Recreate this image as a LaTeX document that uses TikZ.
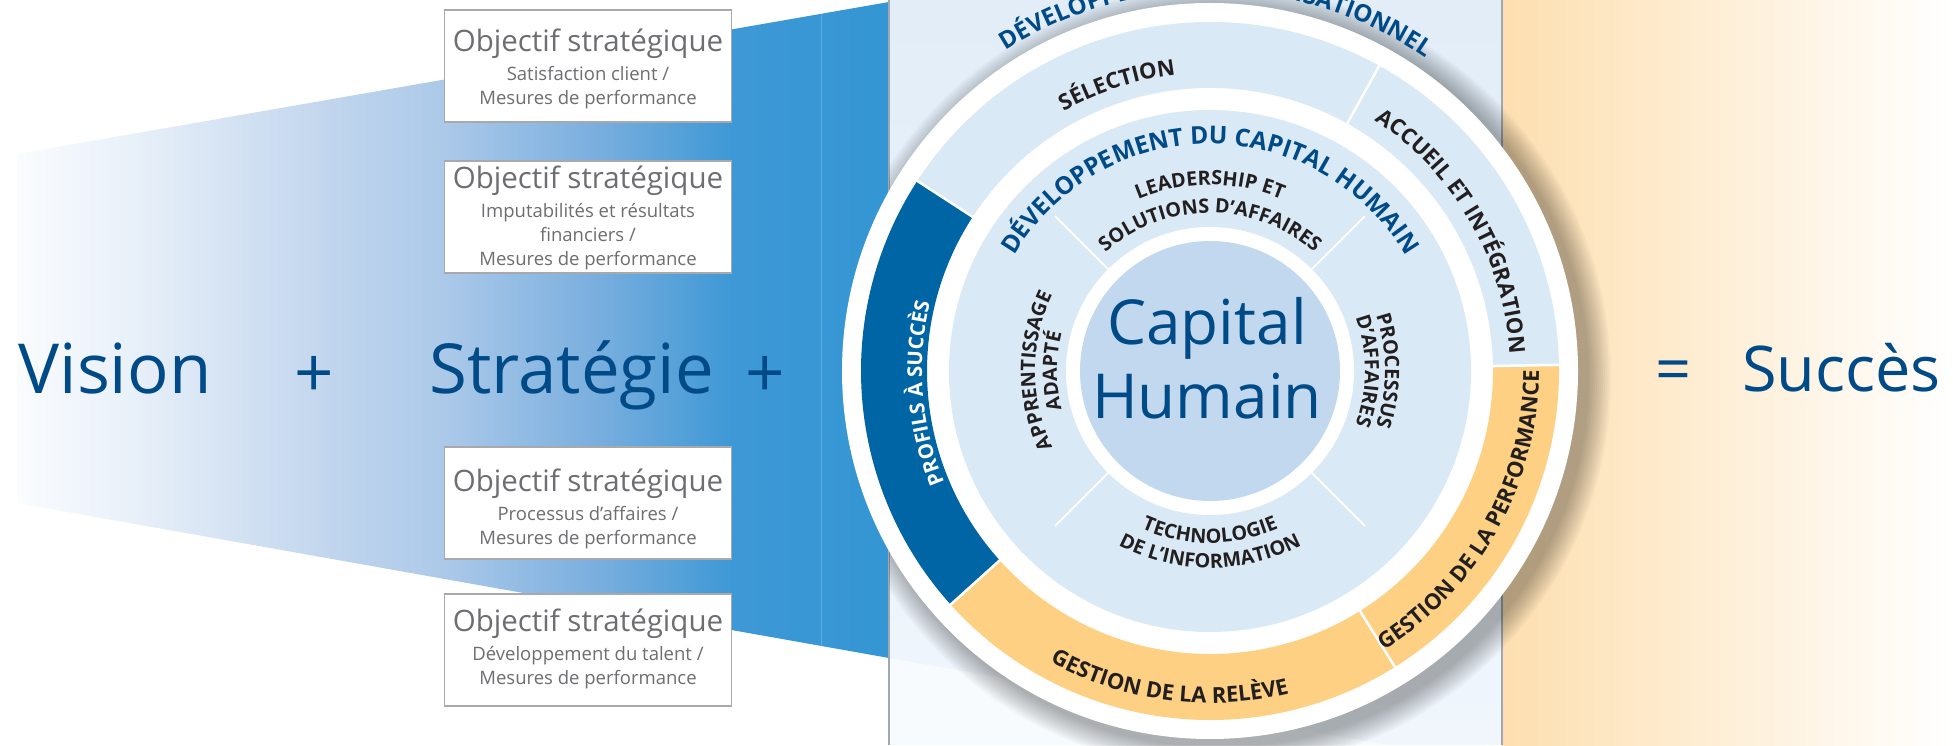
\documentclass[tikz,border=0pt]{standalone}
\usepackage{fontspec}
\setmainfont{Open Sans}
\usetikzlibrary{decorations.text}

\definecolor{navy}{RGB}{0,75,135}
\definecolor{ringblue}{RGB}{217,233,246}
\definecolor{coreblue}{RGB}{193,216,238}
\definecolor{profblue}{RGB}{0,101,164}
\definecolor{peachband}{RGB}{253,208,131}
\definecolor{ink}{RGB}{35,31,32}
\definecolor{boxgray}{RGB}{167,169,172}
\definecolor{boxtext}{RGB}{109,110,113}
\definecolor{peachbg}{RGB}{253,223,176}
\definecolor{paneltop}{RGB}{226,237,248}
\definecolor{panelbot}{RGB}{240,246,252}
\definecolor{panelwhite}{RGB}{248,251,253}
\definecolor{panelline}{RGB}{160,168,178}
\definecolor{stripline}{RGB}{95,170,224}
\definecolor{wa}{RGB}{250,252,254}
\definecolor{wb}{RGB}{232,240,249}
\definecolor{wc}{RGB}{192,213,237}
\definecolor{wd}{RGB}{172,201,233}
\definecolor{we}{RGB}{120,174,222}
\definecolor{wf}{RGB}{62,152,213}
\definecolor{wg}{RGB}{52,150,212}

\pgfdeclarehorizontalshading{wedgeshade}{100bp}{color(0bp)=(wa); color(25bp)=(wa); color(31.65bp)=(wb); color(43.1bp)=(wc); color(49.5bp)=(wd); color(58.4bp)=(we); color(66bp)=(wf); color(75bp)=(wg); color(100bp)=(wg)}

\newcommand\ringlbl{\fontsize{22}{23}\selectfont\bfseries\color{ink}}
\newcommand\innerlbl{\fontsize{19.8}{20}\selectfont\bfseries\color{ink}}
\newcommand\headlbl{\fontsize{24.5}{25}\selectfont\bfseries\color{navy}}
\newcommand\proflbl{\fontsize{20.4}{21}\selectfont\bfseries\color{white}}
\newcommand\orglbl{\fontsize{24}{25}\selectfont\bfseries\color{navy}}

\newcommand\arclabel[5]{%
  \path[decorate,decoration={text along path,text={|#1|#2},text align=center}]
    ([shift={(#4:#3)}]C) arc[start angle=#4,end angle=#5,radius=#3];}
\newcommand\bandsector[3]{%
  \fill[#1] ([shift={(#2:349)}]C) arc[start angle=#2,end angle=#3,radius=349]
    -- ([shift={(#3:283)}]C) arc[start angle=#3,end angle=#2,radius=283] -- cycle;}

\begin{document}
\begin{tikzpicture}[x=1pt,y=1pt,
  objbox/.style={draw=boxgray, line width=1.5pt, fill=white, minimum width=287pt, minimum height=112pt, inner sep=0pt},
  objtitle/.style={anchor=base, inner sep=0pt, text=boxtext, font=\fontsize{29.5}{30}\selectfont},
  objsub/.style={anchor=base, inner sep=0pt, text=boxtext, font=\fontsize{18.5}{19}\selectfont},
  bigword/.style={anchor=base, inner sep=0pt, text=navy, font=\fontsize{69}{70}\selectfont},
  endword/.style={anchor=base, inner sep=0pt, text=navy, font=\fontsize{63}{64}\selectfont},
  corword/.style={anchor=base, inner sep=0pt, text=navy, font=\fontsize{62}{62}\selectfont},
  ringgap/.style={white, line width=2.5pt},
  innergap/.style={white, line width=2pt}]
\useasboundingbox (0,0) rectangle (1953,745);
\clip (0,0) rectangle (1953,745);
\fill[white] (0,0) rectangle (1953,745);
\coordinate (C) at (1210,374);

% peach background on the right
\shade[left color=peachbg, right color=white] (1502,0) rectangle (1953,745);

% central panel
\fill[panelwhite] (889,0) rectangle (1502,745);
\shade[top color=paneltop, bottom color=panelbot] (889,745) -- (1502,745) -- (1502,0) -- (1389,0) -- (889,87) -- cycle;

% left wedge
\shade[shading=wedgeshade] (17,591) -- (889,743) -- (889,87) -- (17,242) -- cycle;
\draw[stripline, line width=0.8pt] (821,731) -- (821,99);

\draw[panelline, line width=1.5pt] (889,0) -- (889,745);
\draw[panelline, line width=1.5pt] (1502,0) -- (1502,745);

% shadow of the wheel
\begin{scope}
\clip (889,0) rectangle (1953,745);
\foreach \k in {1,...,12}
  \fill[black, opacity=0.028] ([shift={(9,-7)}]C) circle[radius={368+2*\k}];
\end{scope}

% wheel
\fill[white] (C) circle[radius=368];
\bandsector{ringblue}{1}{61}
\bandsector{ringblue}{61}{147}
\bandsector{profblue}{147}{222}
\bandsector{peachband}{222}{302}
\bandsector{peachband}{302}{361}
\foreach \ang in {1,61,147,222,302}
  \draw[ringgap] ([shift={(\ang:279)}]C) -- ([shift={(\ang:353)}]C);
\fill[ringblue] (C) circle[radius=261];
\fill[white] (C) circle[radius=144];
\fill[coreblue] (C) circle[radius=130];
\foreach \ang in {45,135,225,315}
  \draw[innergap] ([shift={(\ang:143)}]C) -- ([shift={(\ang:219)}]C);

\node[corword] (cap1) at (1207,400) {Capital};
\node[corword] (cap2) at (1207,326.7) {Humain};

% arc labels
\arclabel{\orglbl}{DÉVELOPPEMENT ORGANISATIONNEL}{380}{165}{13}
\arclabel{\headlbl}{DÉVELOPPEMENT DU CAPITAL HUMAIN}{227}{175}{5}
\arclabel{\innerlbl}{LEADERSHIP ET}{186}{160}{20}
\arclabel{\innerlbl}{SOLUTIONS D’AFFAIRES}{158}{165}{15}
\arclabel{\innerlbl}{APPRENTISSAGE}{175}{250}{110}
\arclabel{\innerlbl}{ADAPTÉ}{153}{250}{110}
\arclabel{\innerlbl}{PROCESSUS}{175}{70}{-70}
\arclabel{\innerlbl}{D’AFFAIRES}{155}{70}{-70}
\arclabel{\innerlbl}{TECHNOLOGIE}{172}{200}{340}
\arclabel{\innerlbl}{DE L’INFORMATION}{197}{195}{345}
\arclabel{\ringlbl}{SÉLECTION}{298}{150}{66}
\arclabel{\ringlbl}{ACCUEIL ET INTÉGRATION}{300}{74}{-14}
\arclabel{\ringlbl}{GESTION DE LA PERFORMANCE}{329}{-75}{17}
\arclabel{\ringlbl}{GESTION DE LA RELÈVE}{332}{215}{310}
\arclabel{\proflbl}{PROFILS À SUCCÈS}{288}{235}{134}

% objective boxes
\node[objbox] (ob1) at (588,679) {};
\node[objtitle] (ob1a) at (588,693.5) {Objectif stratégique};
\node[objsub] (ob1b) at (588,664.5) {Satisfaction client /};
\node[objsub] (ob1c) at (588,640.5) {Mesures de performance};

\node[objbox] (ob2) at (588,528) {};
\node[objtitle] (ob2a) at (588,556) {Objectif stratégique};
\node[objsub] (ob2b) at (588,527) {Imputabilités et résultats};
\node[objsub] (ob2c) at (588,503) {financiers /};
\node[objsub] (ob2d) at (588,479) {Mesures de performance};

\node[objbox] (ob3) at (588,242) {};
\node[objtitle] (ob3a) at (588,253.5) {Objectif stratégique};
\node[objsub] (ob3b) at (588,225) {Processus d’affaires /};
\node[objsub] (ob3c) at (588,201) {Mesures de performance};

\node[objbox] (ob4) at (588,95) {};
\node[objtitle] (ob4a) at (588,114) {Objectif stratégique};
\node[objsub] (ob4b) at (588,85) {Développement du talent /};
\node[objsub] (ob4c) at (588,61) {Mesures de performance};

% equation words
\node[bigword] (vision) at (115,351.5) {Vision};
\node[bigword] (plus1) at (314.5,347.5) {+};
\node[bigword] (strat) at (571.5,351) {Stratégie};
\node[bigword] (plus2) at (765.5,347.5) {+};
\node[endword] (eq) at (1673.5,353) {=};
\node[endword] (succes) at (1841.5,353) {Succès};
\end{tikzpicture}
\end{document}
